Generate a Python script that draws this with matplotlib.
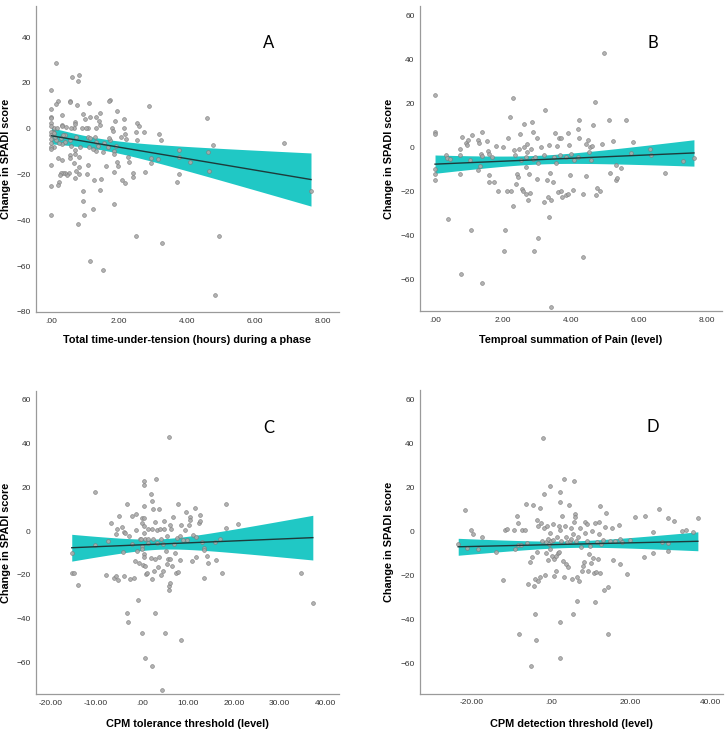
import numpy as np
import matplotlib.pyplot as plt

plt.rcParams['font.family'] = ['Liberation Sans', 'DejaVu Sans']

# panel A: total time-under-tension (hours) vs change in SPADI
a_x = [0.13, 0.82, 0.61, 0.77, 0.0, 0.0, 0.77, 0.95, 1.24, 0.92, 0.92, 1.44, 1.83, 1.14, 1.51,
       2.49, 3.27, 4.82, 4.92, 6.86, 7.64, 4.59, 4.62, 4.75, 4.64, 3.71, 3.75, 3.75, 3.75, 4.08,
       2.88, 3.16, 3.22, 2.93, 2.93, 3.13, 2.76, 2.40, 2.40, 2.17, 2.08, 1.83, 1.93, 1.96, 2.52,
       2.57, 2.50, 2.73, 2.52, 2.27, 2.28, 1.93, 2.14, 2.15, 2.16, 2.20, 2.06, 1.88, 1.90, 1.83,
       1.85, 1.73, 1.71, 1.79, 1.81, 1.73, 1.69, 1.68, 1.56, 1.60, 1.51, 1.44, 1.41, 1.44, 1.31,
       1.32, 1.29, 1.30, 1.36, 1.30, 1.24, 1.47, 1.26, 1.11, 1.13, 1.07, 1.00, 1.01, 1.07, 1.14,
       1.10, 1.07, 1.05, 0.92, 0.90, 0.85, 0.80, 0.82, 0.82, 0.72, 0.75, 0.69, 0.71, 0.67, 0.72,
       0.70, 0.70, 0.67, 0.71, 0.54, 0.56, 0.58, 0.56, 0.58, 0.56, 0.54, 0.53, 0.42, 0.39, 0.41,
       0.47, 0.41, 0.34, 0.31, 0.31, 0.30, 0.34, 0.30, 0.27, 0.32, 0.29, 0.25, 0.22, 0.19, 0.19,
       0.14, 0.22, 0.19, 0.15, 0.12, 0.07, 0.05, 0.07, 0.0, 0.0, 0.0, 0.0, 0.0, 0.0, 0.0, 0.0,
       0.0, 0.0, 0.0, 0.0, 0.0, 0.17, 0.07]
a_y = [28.6, 23.6, 22.7, 20.6, 16.9, -37.8, -41.4, -37.8, -35.0, -31.5, -27.1, -26.8, -32.7, -57.7, -61.5,
       -46.9, -50.1, -72.7, -46.8, -6.1, -27.4, 4.7, -10.2, -7.0, -18.4, -23.3, -19.8, -9.3, -12.2, -14.4,
       9.9, -2.5, -5.0, -15.2, -13.0, -13.4, -19.1, -19.5, -21.0, -23.9, -22.2, -18.9, -14.7, -16.3, 2.6,
       1.3, -1.3, -1.3, -5.0, -12.2, -14.4, 7.9, 4.2, 0.1, -2.5, -4.7, -3.5, 3.5, -7.6, -9.6,
       -11.1, 12.5, 11.9, 0.4, -0.9, -5.0, -4.2, -8.2, -6.4, -16.2, -10.1, 6.7, 3.5, 1.6, 0.4,
       5.0, -3.5, -5.7, -7.6, -9.6, -8.9, -22.0, -22.4, 11.4, 5.0, 0.4, 4.1, 0.4, -3.5, -4.2,
       -7.9, -15.9, -19.8, 6.3, 0.4, -7.9, -12.2, -16.6, -20.0, -18.4, 10.2, 2.8, 2.0, 0.4, -3.5,
       -9.3, -11.1, -15.2, -21.7, 12.2, 11.8, 0.1, -5.0, -7.4, -11.5, -13.0, -19.2, 0.9, -2.8, -5.7,
       -20.3, -19.2, -19.5, 6.0, 1.6, 1.2, -2.8, -6.9, -4.2, -13.7, -19.5, -20.3, -23.2, -24.6, 12.1,
       10.6, -6.4, -13.0, -5.0, -3.5, -7.9, -1.3, 0.4, 8.5, 5.2, 4.5, 2.6, 1.2, -1.3, -2.8, -4.7,
       -6.1, -7.9, -8.9, -15.7, -25.1, 0.3, -2.0]

# panel B: temporal summation of pain
b_x = [0, 0, 0, 0, 0, 0, 0.31, 0.36, 0.44, 0.38, 0.72, 0.72, 0.73, 0.80, 0.75, 0.90, 0.95, 0.98,
       1.03, 1.05, 1.10, 1.25, 1.25, 1.29, 1.32, 1.34, 1.37, 1.39, 1.37, 1.52, 1.57, 1.59, 1.59,
       1.59, 1.66, 1.73, 1.80, 1.86, 2.01, 2.05, 2.03, 2.11, 2.15, 2.19, 2.22, 2.29, 2.29, 2.32,
       2.34, 2.37, 2.40, 2.44, 2.47, 2.50, 2.52, 2.55, 2.59, 2.61, 2.61, 2.66, 2.66, 2.68, 2.71,
       2.71, 2.73, 2.76, 2.79, 2.81, 2.84, 2.87, 2.88, 2.91, 2.93, 2.99, 3.01, 3.03, 3.03, 3.11,
       3.19, 3.21, 3.23, 3.28, 3.33, 3.36, 3.38, 3.36, 3.40, 3.42, 3.48, 3.50, 3.52, 3.55, 3.58,
       3.60, 3.64, 3.67, 3.69, 3.71, 3.74, 3.84, 3.86, 3.91, 3.92, 3.94, 3.96, 3.99, 4.05, 4.08,
       4.20, 4.23, 4.23, 4.21, 4.35, 4.35, 4.43, 4.43, 4.50, 4.53, 4.56, 4.58, 4.62, 4.65, 4.70,
       4.74, 4.77, 4.85, 4.92, 4.97, 5.11, 5.13, 5.24, 5.31, 5.31, 5.34, 5.46, 5.62, 5.75, 5.83,
       6.32, 6.34, 6.76, 7.30, 7.61]
b_y = [24.0, 7.3, 6.2, -9.4, -12.0, -14.7, -3.3, -4.4, -4.9, -32.2, -0.3, -3.3, -12.0, 5.0, -57.3, 2.3, 1.5, 3.5,
       -5.6, -37.5, 5.8, 3.8, -10.2, 2.0, -8.4, -3.0, -3.8, 7.3, -61.4, 3.0, -1.5, -2.6, -12.5,
       -15.5, -4.1, -15.5, 0.9, -19.8, 0.5, -37.5, -46.7, -19.8, 4.7, 14.1, -19.4, 22.9, -26.4, -1.1,
       -3.3, -16.3, -11.7, -13.2, -0.3, 6.5, -5.3, -18.5, -19.8, 0.5, 10.8, -8.7, -21.1, -4.1, -1.8,
       1.7, -23.9, -11.7, -20.5, -0.3, 11.9, 7.3, -4.9, -46.7, -4.1, -14.0, 4.7, -7.1, -41.0, 0.5,
       -3.3, -24.6, 17.2, -14.4, -22.3, 1.5, -11.4, -31.5, -23.9, -72.5, -15.5, -4.1, 6.8, -7.1, 0.8,
       -20.1, 4.3, -3.3, 4.3, -19.4, -22.3, -21.6, -4.1, 6.8, -20.8, 1.5, -12.5, -2.6, -19.0, -5.3,
       8.8, 12.9, 4.6, -4.1, -20.8, -49.7, 1.7, -12.8, 3.8, -1.8, 0.5, -5.3, 0.9, 10.3, 21.0,
       -21.6, -18.1, -19.8, 1.7, 43.3, 12.6, -11.4, 3.2, -7.9, -14.4, -13.5, -9.0, 12.6, -2.3, 2.7,
       -0.6, -3.3, -11.4, -5.9, -4.6]

# panel C: CPM tolerance threshold
c_x = [-15.2, -15.3, -14.9, -13.9, -10.2, -10.2, -7.9, -7.3, -6.8, -6.1, -5.7, -5.6, -5.4, -5.2, -5.0,
       -4.3, -4.1, -3.9, -3.9, -3.6, -3.2, -3.2, -3.0, -2.8, -2.7, -2.2, -2.1, -1.7, -1.6, -1.4,
       -1.2, -1.0, -0.9, -0.7, -0.4, -0.3, -0.1, -0.1, 0.1, 0.1, 0.1, 0.3, 0.4, 0.4, 0.4, 0.4,
       0.4, 0.4, 0.4, 0.4, 0.6, 0.6, 0.7, 0.8, 1.0, 1.2, 1.2, 1.3, 1.9, 1.9, 2.1, 2.1, 2.2,
       2.2, 2.5, 2.5, 2.6, 2.8, 2.8, 2.9, 3.0, 3.2, 3.3, 3.5, 3.6, 3.7, 3.9, 4.1, 4.2, 4.4,
       4.6, 4.6, 4.8, 4.8, 5.0, 5.2, 5.4, 5.5, 5.7, 5.8, 5.9, 5.9, 6.0, 6.1, 6.2, 6.4, 6.6,
       6.8, 7.0, 7.1, 7.5, 7.7, 7.8, 7.9, 8.2, 8.3, 8.4, 8.6, 9.0, 9.3, 9.6, 9.9, 10.3, 10.5,
       10.5, 10.8, 11.2, 11.5, 11.7, 11.8, 12.4, 12.6, 12.6, 13.1, 13.4, 13.5, 13.6, 14.2, 14.4,
       15.9, 16.2, 17.0, 17.4, 18.4, 18.4, 21.0, 34.7, 37.2]
c_y = [-9.9, -19.3, -19.3, -24.6, 17.9, -6.4, -20.1, -4.6, 3.8, -21.3, -20.5, -1.2, 0.8, -22.3, 7.1,
       1.8, -9.6, -20.5, -0.5, -0.8, 12.2, -37.5, -41.5, -2.3, -22.0, -6.1, 7.1, -21.6, -13.7, 7.6,
       0.3, -9.1, -31.5, -14.4, -3.8, -3.5, 5.8, 3.8, -6.8, -8.1, -46.4, -15.5, 22.8, 20.8, 11.4, 6.1,
       2.3, -0.8, -10.6, -11.7, -3.8, -57.8, -16.0, -19.8, -19.0, 1.1, -5.3, -3.5, 17.0, -12.5, 0.8, 13.7, -22.0,
       -61.6, 10.2, -3.8, -18.2, -37.5, 4.3, -12.9, 23.6, 0.3, -5.3, -16.4, 9.9, -11.9, 0.8, -20.1, -3.8, -72.5,
       -6.1, -18.2, 4.4, 0.8, -46.4, -9.1, -15.2, -2.3, -12.9, 42.9, -25.1, -26.9, -23.9, -12.9, 2.6, 1.1, -16.0,
       6.5, -6.1, -10.2, -19.0, -3.3, 12.5, -18.5, -2.3, -13.4, -49.8, 2.6, -4.1, 0.3, 8.7, -4.1, 2.6, 6.5,
       5.0, -13.7, -2.0, 10.6, -11.7, -2.7, 3.8, 7.3, 4.6, -5.0, -21.6, -7.6, -8.7, -11.4, -14.7,
       -4.9, -13.2, -3.5, -19.3, 12.2, 1.2, 3.3, -19.0, -32.7]

# panel D: CPM detection threshold
d_x = [-23.4, -21.7, -21.3, -20.3, -19.6, -18.3, -17.3, -14.0, -12.1, -11.7, -11.2, -9.4, -9.0, -8.7,
       -8.4, -8.3, -8.1, -7.7, -7.3, -6.6, -6.4, -6.0, -5.8, -5.4, -5.2, -4.8, -4.5, -4.4, -4.2,
       -4.1, -3.8, -3.7, -3.5, -3.3, -3.2, -2.8, -2.7, -2.5, -2.3, -2.0, -1.8, -1.7, -1.6, -1.4,
       -1.2, -1.0, -0.8, -0.8, -0.6, -0.4, -0.3, -0.2, 0.0, 0.1, 0.4, 0.5, 0.7, 0.8, 1.1, 1.3,
       1.5, 1.8, 1.9, 1.9, 2.1, 2.2, 2.2, 2.3, 2.3, 2.5, 2.8, 3.0, 3.2, 3.2, 3.4, 3.6, 3.8,
       4.0, 4.2, 4.4, 4.7, 4.9, 5.0, 5.3, 5.4, 5.5, 5.7, 5.8, 5.9, 6.1, 6.3, 6.4, 6.5, 6.7,
       6.9, 7.2, 7.4, 7.8, 8.0, 8.2, 8.4, 8.6, 8.9, 9.0, 9.2, 9.5, 9.7, 9.9, 10.3, 10.5, 10.7,
       10.9, 11.1, 11.3, 11.5, 11.7, 12.0, 12.1, 12.2, 12.4, 12.6, 13.1, 13.2, 13.6, 13.9, 14.3,
       14.3, 14.9, 15.3, 15.6, 16.0, 17.0, 17.2, 17.4, 17.8, 19.1, 19.7, 21.2, 23.3, 23.5, 25.5,
       25.6, 27.2, 27.9, 29.3, 29.4, 29.5, 31.0, 32.9, 33.9, 35.8, 36.9]
d_y = [-5.7, 9.8, -7.7, 0.8, -1.2, -8.0, -2.7, -9.5, -21.9, 0.6, 0.9, 0.6, -8.0, 7.1,
       3.8, -6.2, -46.6, -6.2, 0.8, 0.8, 12.4, -5.4, -23.9, -13.8, -61.4, -11.8, 12.1, -24.7, -37.5,
       -21.6, -49.6, 5.1, -9.5, -22.4, 2.6, 10.6, -20.6, 3.6, -4.2, 42.7, 1.5, 16.9, -19.8, -5.0,
       -9.8, 2.3, -3.5, -12.9, -5.7, 20.7, -0.8, -8.0, -4.2, -11.0, -3.9, 3.3, -20.1, -12.6, -11.0, -18.2,
       -2.7, -10.0, 2.6, -9.2, -41.3, 17.7, 13.6, -57.5, 0.6, -4.2, 7.1, -13.3, 23.8, -20.6, 2.6, -14.8, -2.4,
       -5.0, -16.0, 12.1, -4.2, 1.5, -3.5, -21.6, -1.2, -37.8, 22.7, 4.4, 7.9, 6.7, -4.2, -20.9, -31.5, -2.4,
       -22.4, 1.4, -7.3, -18.2, -15.9, -14.1, 4.5, -0.8, 3.3, -4.2, -18.2, -10.3, -6.8, -14.5, 0.3, -12.1, -19.1,
       -32.2, 3.8, -18.6, -5.0, -12.6, 4.4, -1.2, 11.6, -18.9, -5.7, -3.9, -26.6, 1.8, 8.3, -46.6,
       -25.1, -4.2, 1.5, -13.0, -4.2, 2.7, -14.8, -3.5, -5.0, -19.4, -3.9, 6.7, -11.8, 6.8, -0.5,
       -9.8, 10.1, -4.7, 6.1, -8.8, -5.3, 4.8, 0.0, 0.8, -0.5, 6.1]

# fitted line: y at the smallest and largest x
fit_a = [-3.1, -22.2]
fit_b = [-7.4, -2.3]
fit_c = [-7.6, -3.0]
fit_d = [-7.0, -4.5]
# half-width of the 95% band at the wider end
band_a = 11.6
band_b = 6.0
band_c = 10.2
band_d = 4.3

panels = [
    (a_x, a_y, fit_a, band_a, "A", "Total time-under-tension (hours) during a phase",
     (-0.44, 8.45), (-80, 53.6), [0, 2, 4, 6, 8], [40, 20, 0, -20, -40, -60, -80],
     [0.05, 0.575, 0.415, 0.417], -0.099, -0.092),
    (b_x, b_y, fit_b, band_b, "B", "Temproal summation of Pain (level)",
     (-0.44, 8.44), (-74.3, 64.6), [0, 2, 4, 6, 8], [60, 40, 20, 0, -20, -40, -60],
     [0.577, 0.576, 0.415, 0.416], -0.103, -0.094),
    (c_x, c_y, fit_c, band_c, "C", "CPM tolerance threshold (level)",
     (-23.0, 42.8), (-74.5, 63.8), [-20, -10, 0, 10, 20, 30, 40], [60, 40, 20, 0, -20, -40, -60],
     [0.05, 0.054, 0.415, 0.413], -0.099, -0.099),
    (d_x, d_y, fit_d, band_d, "D", "CPM detection threshold (level)",
     (-33.0, 43.2), (-73.8, 64.1), [-20, 0, 20, 40], [60, 40, 20, 0, -20, -40, -60],
     [0.577, 0.055, 0.416, 0.413], -0.103, -0.099),
]


def fmt(v):
    return ".00" if v == 0 else "%.2f" % v


fig = plt.figure(figsize=(7.28, 7.34), dpi=100)
for x, y, fit, band, letter, xlabel, xlim, ylim, xt, yt, rect, ylx, xly in panels:
    x = np.array(x, dtype=float)
    y = np.array(y, dtype=float)
    ax = fig.add_axes(rect)

    # fit line and confidence band (OLS shape from the x spread)
    xs = np.linspace(x.min(), x.max(), 200)
    line = np.interp(xs, [x.min(), x.max()], fit)
    shape = np.sqrt(1 / len(x) + (xs - x.mean()) ** 2 / np.sum((x - x.mean()) ** 2))
    half = band * shape / shape.max()
    ax.fill_between(xs, line - half, line + half, color="#20c8c5", lw=0, zorder=2)
    ax.plot(xs, line, color="#1d3b3b", lw=1.0, zorder=4)

    ax.scatter(x, y, s=7.5, facecolor="#aaaaaa", edgecolor="#7a7a7a", linewidth=0.45,
               alpha=0.9, zorder=3)

    ax.set_xlim(*xlim)
    ax.set_ylim(*ylim)
    ax.set_xticks(xt)
    ax.set_xticklabels([fmt(v) for v in xt])
    ax.set_yticks(yt)
    ax.tick_params(length=0, labelsize=6, colors="#333333", pad=4)
    for side in ["top", "right"]:
        ax.spines[side].set_visible(False)
    for side in ["left", "bottom"]:
        ax.spines[side].set_color("#9a9a9a")
        ax.spines[side].set_linewidth(0.9)
    ax.set_xlabel(xlabel, fontsize=7.8, fontweight="bold", va="center")
    ax.set_ylabel("Change in SPADI score", fontsize=7.8, fontweight="bold", va="center")
    ax.xaxis.set_label_coords(0.5, xly)
    ax.yaxis.set_label_coords(ylx, 0.5)
    ax.text(0.77, 0.88, letter, transform=ax.transAxes, fontsize=12, ha="center", va="center",
            family=["Lato", "DejaVu Sans"])

fig.savefig("out.png", dpi=100)
